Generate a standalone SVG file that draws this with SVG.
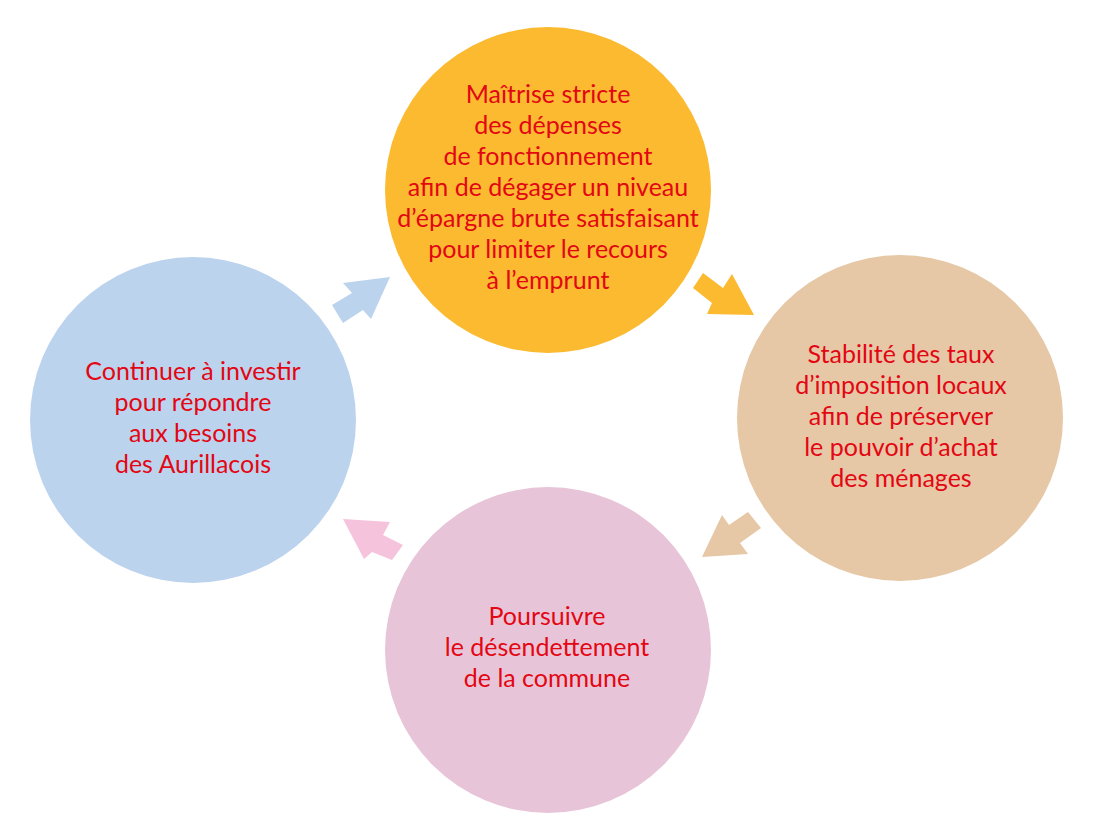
<svg xmlns="http://www.w3.org/2000/svg" width="1100" height="831" viewBox="0 0 1100 831">
<style>
.t{font-family:Lato,"Noto Sans","Liberation Sans",sans-serif;font-size:25px;fill:#E30613;text-anchor:middle}
</style>
<rect width="1100" height="831" fill="#ffffff"/>
<g id="connectors">
<polygon points="390,277 343,283 352,293 332,305 343,323 363,310 371,319" fill="#BCD3EE"/>
<polygon points="754,315 707,314 712,303 693,288 703,273 723,288 732,274" fill="#FBBA30"/>
<polygon points="702,557 722,515 729,525 748,512 761,528 740,543 748,554" fill="#E6C7A6"/>
<polygon points="343,519 390,522 383,535 403,545 392,560 372,552 364,559" fill="#F5C3DB"/>
</g>
<g id="node-top">
<circle cx="548" cy="190" r="163" fill="#FBBA30"/>
<text class="t" x="548" y="103">Maîtrise stricte</text>
<text class="t" x="548" y="134">des dépenses</text>
<text class="t" x="548" y="165">de fonctionnement</text>
<text class="t" x="548" y="196">afin de dégager un niveau</text>
<text class="t" x="548" y="227">d’épargne brute satisfaisant</text>
<text class="t" x="548" y="258">pour limiter le recours</text>
<text class="t" x="548" y="289">à l’emprunt</text>
</g>
<g id="node-right">
<circle cx="900" cy="418" r="163" fill="#E6C7A6"/>
<text class="t" x="901" y="363">Stabilité des taux</text>
<text class="t" x="901" y="394">d’imposition locaux</text>
<text class="t" x="901" y="425">afin de préserver</text>
<text class="t" x="901" y="456">le pouvoir d’achat</text>
<text class="t" x="901" y="487">des ménages</text>
</g>
<g id="node-bottom">
<circle cx="548" cy="650" r="163" fill="#E8C4D8"/>
<text class="t" x="547" y="625">Poursuivre</text>
<text class="t" x="547" y="656">le désendettement</text>
<text class="t" x="547" y="687">de la commune</text>
</g>
<g id="node-left">
<circle cx="193" cy="420" r="163" fill="#BCD3EE"/>
<text class="t" x="193" y="380">Continuer à investir</text>
<text class="t" x="193" y="411">pour répondre</text>
<text class="t" x="193" y="442">aux besoins</text>
<text class="t" x="193" y="473">des Aurillacois</text>
</g>
</svg>
